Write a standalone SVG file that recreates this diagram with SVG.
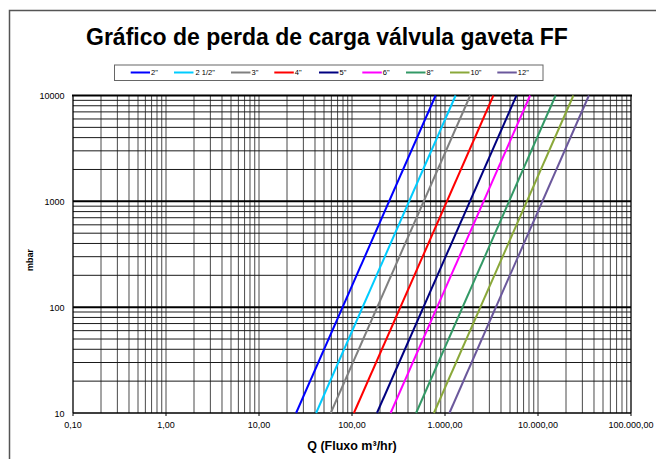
<svg xmlns="http://www.w3.org/2000/svg" width="656" height="459" viewBox="0 0 656 459">
<style>
text{font-family:"Liberation Sans",Arial,sans-serif;fill:#000}
.title{font-size:23px;font-weight:bold}
.leg{font-size:7.5px}
.tick{font-size:9px}
.axl{font-weight:bold}
.vg{stroke:#4a4a4a;stroke-width:1;fill:none}
.hg{stroke:#1a1a1a;stroke-width:1;fill:none}
.major{stroke:#000;stroke-width:2;fill:none}
.ser{stroke-width:2;fill:none}
</style>
<rect width="656" height="459" fill="#fff"/>
<rect id="frame" x="9.5" y="10.5" width="700" height="500" fill="none" stroke="#555" stroke-width="1.5"/>
<text id="title" class="title" x="86" y="44.5">Gráfico de perda de carga válvula gaveta FF</text>
<g id="legend">
<rect x="114.5" y="65" width="428.5" height="15.5" fill="#fff" stroke="#666" stroke-width="1"/>
<line class="ser" x1="130.7" y1="72.5" x2="150" y2="72.5" stroke="#0000FF"/><text class="leg" x="151" y="75">2"</text>
<line class="ser" x1="174" y1="72.5" x2="193.5" y2="72.5" stroke="#00CCFF"/><text class="leg" x="195.5" y="75">2 1/2"</text>
<line class="ser" x1="231" y1="72.5" x2="250.5" y2="72.5" stroke="#808080"/><text class="leg" x="251.5" y="75">3"</text>
<line class="ser" x1="274.3" y1="72.5" x2="293.8" y2="72.5" stroke="#FF0000"/><text class="leg" x="294.8" y="75">4"</text>
<line class="ser" x1="319" y1="72.5" x2="338.5" y2="72.5" stroke="#000080"/><text class="leg" x="339.5" y="75">5"</text>
<line class="ser" x1="362.3" y1="72.5" x2="381.8" y2="72.5" stroke="#FF00FF"/><text class="leg" x="382.8" y="75">6"</text>
<line class="ser" x1="406" y1="72.5" x2="425.5" y2="72.5" stroke="#339966"/><text class="leg" x="426.5" y="75">8"</text>
<line class="ser" x1="450" y1="72.5" x2="469.5" y2="72.5" stroke="#8AA83A"/><text class="leg" x="470.5" y="75">10"</text>
<line class="ser" x1="497.3" y1="72.5" x2="516.8" y2="72.5" stroke="#6B589C"/><text class="leg" x="517.8" y="75">12"</text>
</g>
<g id="grid">
<path class="vg" d="M101,95.5V413M117.37,95.5V413M128.99,95.5V413M138,95.5V413M145.37,95.5V413M151.59,95.5V413M156.99,95.5V413M161.74,95.5V413
M166,95.5V413M194,95.5V413M210.37,95.5V413M221.99,95.5V413M231,95.5V413M238.37,95.5V413M244.59,95.5V413M249.99,95.5V413M254.74,95.5V413
M259,95.5V413M287,95.5V413M303.37,95.5V413M314.99,95.5V413M324,95.5V413M331.37,95.5V413M337.59,95.5V413M342.99,95.5V413M347.74,95.5V413
M352,95.5V413M380,95.5V413M396.37,95.5V413M407.99,95.5V413M417,95.5V413M424.37,95.5V413M430.59,95.5V413M435.99,95.5V413M440.74,95.5V413
M445,95.5V413M473,95.5V413M489.37,95.5V413M500.99,95.5V413M510,95.5V413M517.37,95.5V413M523.59,95.5V413M528.99,95.5V413M533.74,95.5V413
M538,95.5V413M566,95.5V413M582.37,95.5V413M593.99,95.5V413M603,95.5V413M610.37,95.5V413M616.59,95.5V413M621.99,95.5V413M626.74,95.5V413"/>
<path class="hg" d="M73,381.14H631M73,362.51H631M73,349.29H631M73,339.03H631M73,330.65H631M73,323.56H631M73,317.43H631M73,312.01H631
M73,275.31H631M73,256.68H631M73,243.46H631M73,233.2H631M73,224.82H631M73,217.73H631M73,211.6H631M73,206.18H631
M73,169.47H631M73,150.84H631M73,137.62H631M73,127.36H631M73,118.98H631M73,111.89H631M73,105.76H631M73,100.34H631"/>
<path class="major" d="M73,307.17H631M73,201.33H631M72,95.5H632"/>
<path d="M631,95.5V413M73,95.5V413M73,413H631" stroke="#000" stroke-width="1.3" fill="none"/>
<path d="M73,413v3M166,413v3M259,413v3M352,413v3M445,413v3M538,413v3M631,413v3" stroke="#000" stroke-width="1" fill="none"/>
</g>
<g id="series">
<line class="ser" x1="296.1" y1="413" x2="435.6" y2="95.5" stroke="#0000FF"/>
<line class="ser" x1="316.1" y1="413" x2="455.6" y2="95.5" stroke="#00CCFF"/>
<line class="ser" x1="330.75" y1="413" x2="470.25" y2="95.5" stroke="#808080"/>
<line class="ser" x1="353.9" y1="413" x2="493.4" y2="95.5" stroke="#FF0000"/>
<line class="ser" x1="376.95" y1="413" x2="516.45" y2="95.5" stroke="#000080"/>
<line class="ser" x1="390.6" y1="413" x2="530.1" y2="95.5" stroke="#FF00FF"/>
<line class="ser" x1="416.1" y1="413" x2="555.6" y2="95.5" stroke="#339966"/>
<line class="ser" x1="433.9" y1="413" x2="573.4" y2="95.5" stroke="#8AA83A"/>
<line class="ser" x1="449.4" y1="413" x2="588.9" y2="95.5" stroke="#6B589C"/>
</g>
<g id="yaxis-labels" class="tick" text-anchor="end">
<text x="64.5" y="99">10000</text>
<text x="64.5" y="204.5">1000</text>
<text x="64.5" y="310.5">100</text>
<text x="64.5" y="416.5">10</text>
</g>
<g id="xaxis-labels" class="tick" text-anchor="middle">
<text x="73" y="428">0,10</text>
<text x="166" y="428">1,00</text>
<text x="259" y="428">10,00</text>
<text x="352" y="428">100,00</text>
<text x="445" y="428">1.000,00</text>
<text x="538" y="428">10.000,00</text>
<text x="631" y="428">100.000,00</text>
</g>
<text id="ylabel" class="axl" font-size="9" text-anchor="middle" transform="translate(32.5,260) rotate(-90)">mbar</text>
<text id="xlabel" class="axl" font-size="12.5" text-anchor="middle" x="352" y="450">Q (Fluxo m³/hr)</text>
</svg>
